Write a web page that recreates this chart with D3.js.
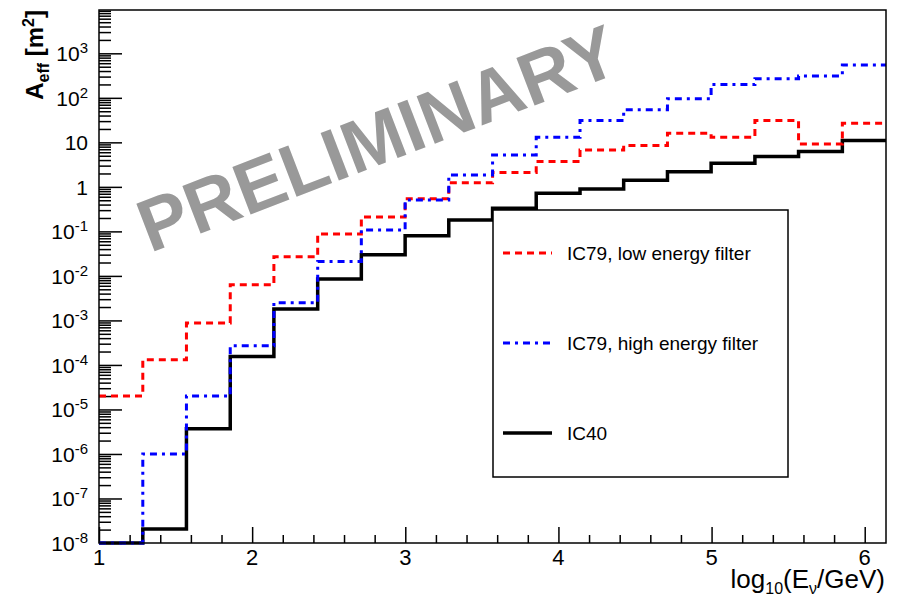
<!DOCTYPE html>
<html>
<head>
<meta charset="utf-8">
<script src="https://cdn.jsdelivr.net/npm/d3@7"></script>
<style>
  body { margin: 0; background: #fff; }
  text { font-family: "Liberation Sans", Arial, sans-serif; }
</style>
</head>
<body>
<div id="chart"></div>
<script>
// bin edges in log10(E/GeV)
var binEdges = [1.000, 1.286, 1.571, 1.857, 2.142, 2.428, 2.713, 2.999, 3.284, 3.570,
                3.855, 4.141, 4.426, 4.712, 4.997, 5.283, 5.568, 5.854, 6.139];

// effective area per bin, m^2
var ic79Low = [2.0e-5, 1.3e-4, 8.7e-4, 6.3e-3, 0.027, 0.087, 0.21, 0.54, 1.23,
               2.1, 3.7, 6.7, 8.5, 16, 13, 31, 9.2, 27];
var ic79High = [1e-8, 1.0e-6, 2.0e-5, 2.7e-4, 2.5e-3, 0.021, 0.107, 0.51, 1.85,
                5.2, 13, 31, 54, 95, 200, 270, 310, 550];
var ic40 = [1e-8, 2.05e-8, 3.7e-6, 1.55e-4, 1.8e-3, 8.5e-3, 0.03, 0.08, 0.18,
            0.33, 0.72, 0.9, 1.4, 2.2, 3.4, 4.8, 6.2, 11];

var seriesNames = ['IC79, low energy filter', 'IC79, high energy filter', 'IC40'];
var xTickLabels = [1, 2, 3, 4, 5, 6];
var yDecades = [-8, -7, -6, -5, -4, -3, -2, -1, 0, 1, 2, 3];

var W = 897, H = 600;
var frameL = 99, frameR = 886, frameT = 10, frameB = 543;

var svg = d3.select('#chart').append('svg')
    .attr('width', W)
    .attr('height', H);

svg.append('rect').attr('width', W).attr('height', H).attr('fill', '#fff');

var x = d3.scaleLinear().domain([1, 6.139]).range([frameL, frameR]);
var y = d3.scaleLog().domain([1e-8, 9400]).range([frameB, frameT]).clamp(true);

// watermark
svg.append('text')
    .attr('transform', 'translate(150,253) rotate(-21)')
    .attr('font-size', 74)
    .attr('font-weight', 'bold')
    .attr('fill', '#999')
    .text('PRELIMINARY');

// ticks (ROOT style, pointing inward)
var yMajor = yDecades.map(function(d){ return Math.pow(10, d); });
var yMinor = [];
yDecades.forEach(function(d){
    for (var k = 2; k <= 9; k++) {
        var v = k * Math.pow(10, d);
        if (v < 9400) yMinor.push(v);
    }
});
var xMinor = d3.range(1, 6.14, 0.2).filter(function(v){ return Math.abs(v - Math.round(v)) > 0.01; });

function styleAxis(g) {
    g.select('.domain').remove();
    g.selectAll('line').attr('stroke', '#000').attr('stroke-width', 1.5);
    g.selectAll('text').remove();
}

svg.append('g').attr('transform', 'translate(' + frameL + ',0)')
    .call(d3.axisLeft(y).tickValues(yMajor).tickSize(-23)).call(styleAxis);
svg.append('g').attr('transform', 'translate(' + frameL + ',0)')
    .call(d3.axisLeft(y).tickValues(yMinor).tickSize(-12)).call(styleAxis);
svg.append('g').attr('transform', 'translate(0,' + frameB + ')')
    .call(d3.axisBottom(x).tickValues(xTickLabels).tickSize(-16)).call(styleAxis);
svg.append('g').attr('transform', 'translate(0,' + frameB + ')')
    .call(d3.axisBottom(x).tickValues(xMinor).tickSize(-8)).call(styleAxis);

// y tick labels
yDecades.forEach(function(d){
    var t = svg.append('text')
        .attr('x', 88)
        .attr('y', y(Math.pow(10, d)) + 8)
        .attr('text-anchor', 'end')
        .attr('font-size', 21)
        .attr('fill', '#000');
    if (d === 0) t.text('1');
    else if (d === 1) t.text('10');
    else {
        t.append('tspan').text('10');
        t.append('tspan').attr('dy', -8).attr('font-size', 15).text(d);
    }
});

// x tick labels
xTickLabels.forEach(function(v){
    svg.append('text')
        .attr('x', x(v))
        .attr('y', 565)
        .attr('text-anchor', 'middle')
        .attr('font-size', 22)
        .attr('fill', '#000')
        .text(v);
});

// axis titles
var xt = svg.append('text')
    .attr('x', 885).attr('y', 588)
    .attr('text-anchor', 'end')
    .attr('font-size', 26)
    .attr('fill', '#000');
xt.append('tspan').text('log');
xt.append('tspan').attr('dy', 6).attr('font-size', 16).text('10');
xt.append('tspan').attr('dy', -6).text('(E');
xt.append('tspan').attr('dy', 6).attr('font-size', 16).text('\u03bd');
xt.append('tspan').attr('dy', -6).text('/GeV)');

var yt = svg.append('text')
    .attr('transform', 'translate(43,10) rotate(-90)')
    .attr('text-anchor', 'end')
    .attr('font-size', 24)
    .attr('font-weight', 'bold')
    .attr('fill', '#000');
yt.append('tspan').text('A');
yt.append('tspan').attr('dy', 6).attr('font-size', 16).text('eff');
yt.append('tspan').attr('dy', -6).text(' [m');
yt.append('tspan').attr('dy', -9).attr('font-size', 16).text('2');
yt.append('tspan').attr('dy', 9).text(']');

// histograms
var stepLine = d3.line()
    .x(function(d){ return x(d[0]); })
    .y(function(d){ return y(d[1]); })
    .curve(d3.curveStepAfter);

function histPoints(vals) {
    var pts = vals.map(function(v, i){ return [binEdges[i], v]; });
    pts.push([binEdges[binEdges.length - 1], vals[vals.length - 1]]);
    return pts;
}

var styles = [
    {data: ic79Low, color: '#ff0000', dash: '7,5', width: 3},
    {data: ic79High, color: '#0000ff', dash: '7,5,3,5', width: 3},
    {data: ic40, color: '#000000', dash: null, width: 3.5}
];

[2, 0, 1].forEach(function(i){
    var s = styles[i];
    svg.append('path')
        .attr('d', stepLine(histPoints(s.data)))
        .attr('fill', 'none')
        .attr('stroke', s.color)
        .attr('stroke-width', s.width)
        .attr('stroke-dasharray', s.dash);
});

// frame
svg.append('rect')
    .attr('x', frameL).attr('y', frameT)
    .attr('width', frameR - frameL).attr('height', frameB - frameT)
    .attr('fill', 'none').attr('stroke', '#000').attr('stroke-width', 1.5);

// legend
svg.append('rect')
    .attr('x', 493).attr('y', 210)
    .attr('width', 295).attr('height', 267)
    .attr('fill', '#fff').attr('stroke', '#000').attr('stroke-width', 1.5);

var legendY = [253, 343, 433];
styles.forEach(function(s, i){
    svg.append('line')
        .attr('x1', 503).attr('x2', 552)
        .attr('y1', legendY[i]).attr('y2', legendY[i])
        .attr('stroke', s.color)
        .attr('stroke-width', s.width)
        .attr('stroke-dasharray', s.dash);
    svg.append('text')
        .attr('x', 567).attr('y', legendY[i] + 7)
        .attr('font-size', 19)
        .attr('fill', '#000')
        .text(seriesNames[i]);
});
</script>
</body>
</html>
